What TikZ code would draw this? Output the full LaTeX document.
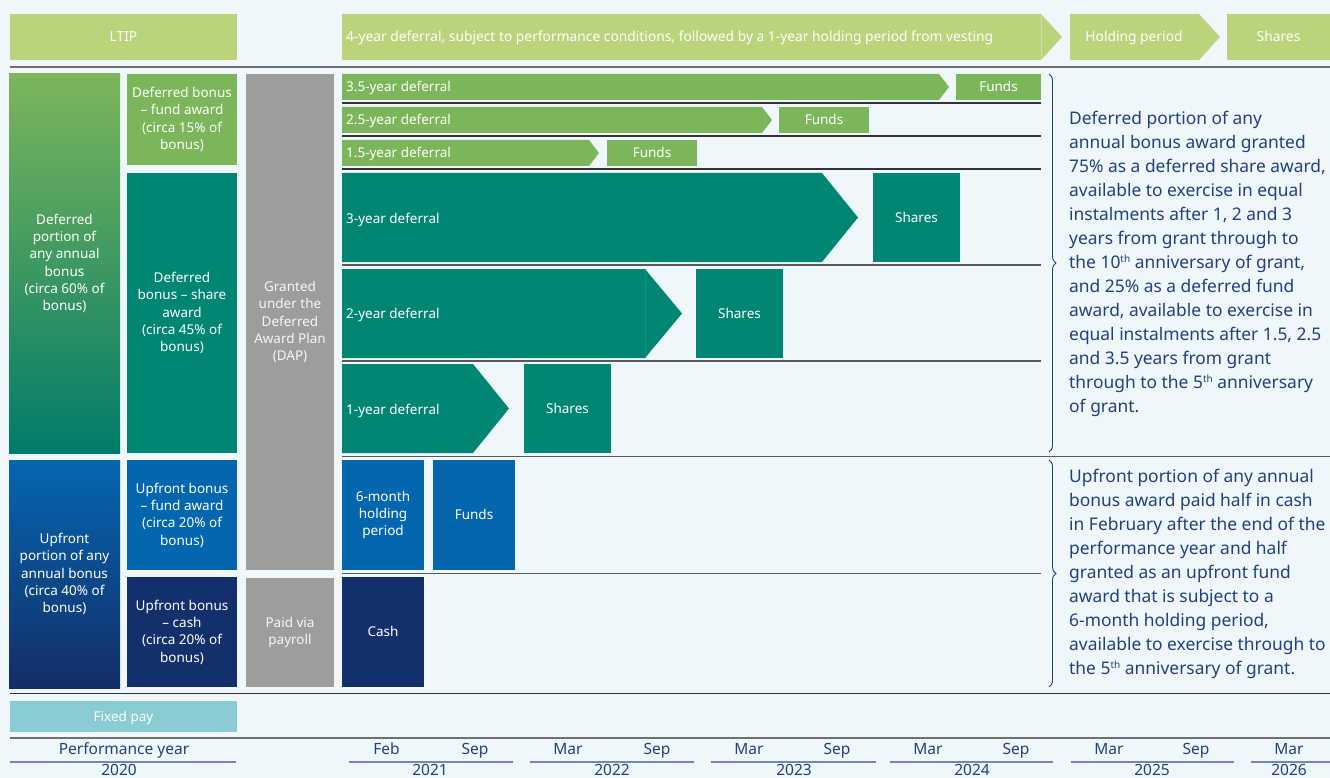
\documentclass[tikz,border=0pt]{standalone}
\usepackage{fontspec}
\setmainfont{Noto Sans}
\usetikzlibrary{decorations.pathreplacing}
\definecolor{bg}{HTML}{F0F7FA}
\definecolor{lgreen}{HTML}{BAD47C}
\definecolor{mgreen}{HTML}{7CB65A}
\definecolor{tealc}{HTML}{008673}
\definecolor{blu}{HTML}{0566B0}
\definecolor{navy}{HTML}{14306C}
\definecolor{grayb}{HTML}{9D9D9B}
\definecolor{fixc}{HTML}{89CCD3}
\definecolor{txtb}{HTML}{22407E}
\definecolor{linegray}{HTML}{6E7072}
\definecolor{axisline}{HTML}{7387B3}
\newcommand{\supx}[1]{\raisebox{0.62ex}{\fontsize{10}{10}\selectfont #1}}
\tikzset{
  bx/.style={anchor=north west, inner sep=0pt, outer sep=0pt, align=center, text=white,
    font=\fontsize{13.5}{17.3}\selectfont},
  one/.style={text height=9.6pt, text depth=0pt},
  lbl/.style={anchor=base west, inner sep=0pt, text=white, font=\fontsize{13.5}{17}\selectfont},
  toplbl/.style={inner sep=0pt, text=white, font=\fontsize{13.8}{17}\selectfont},
  sepline/.style={draw=black!80, line width=1.2pt},
  midline/.style={draw=black!65, line width=1.6pt},
  bigline/.style={draw=linegray, line width=2.5pt},
  axtxt/.style={anchor=base, text=txtb, inner sep=0pt, font=\fontsize{15.5}{17}\selectfont},
  axline/.style={draw=axisline, line width=2pt},
  note/.style={anchor=west, align=left, text=txtb, inner sep=0pt, font=\fontsize{17.4}{24}\selectfont},
  brc/.style={draw=txtb, line width=0.9pt, decorate, decoration={brace, amplitude=7pt}}
}
\begin{document}
\begin{tikzpicture}[x=1pt, y=-1pt]
\fill[bg] (0,0) rectangle (1330,778);
\useasboundingbox (0,0) rectangle (1330,778);

% ---- top row
\node[bx, one, fill=lgreen, minimum width=227pt, minimum height=46pt, font=\fontsize{13.8}{17}\selectfont] (ltip) at (10,14) {LTIP};
\fill[lgreen] (342,14) -- (1041,14) -- (1062,37) -- (1041,60) -- (342,60) -- cycle;
\draw[white!25!lgreen, line width=0.5pt] (1041,14) -- (1041,60);
\node[toplbl, anchor=base west] (fouryear) at (346,42) {4-year deferral, subject to performance conditions, followed by a 1-year holding period from vesting};
\fill[lgreen] (1070,14) -- (1199,14) -- (1220,37) -- (1199,60) -- (1070,60) -- cycle;
\node[toplbl, anchor=base] (hold) at (1134,42) {Holding period};
\node[bx, one, fill=lgreen, minimum width=103pt, minimum height=46pt, font=\fontsize{13.8}{17}\selectfont] (topshares) at (1227,14) {Shares};

\draw[bigline] (10,67) -- (1330,67);

% ---- left columns
\node[bx, top color=mgreen, bottom color=tealc!92!black, minimum width=111pt, minimum height=379pt] (defport) at (9,74)
  {Deferred\\portion of\\any annual\\bonus\\(circa 60\% of\\bonus)};
\node[bx, top color=blu, bottom color=navy!95!black, minimum width=111pt, minimum height=228pt] (upport) at (9,460)
  {Upfront\\portion of any\\annual bonus\\(circa 40\% of\\bonus)};

\node[bx, fill=mgreen, minimum width=110pt, minimum height=91pt] (dfund) at (127,74)
  {Deferred bonus\\– fund award\\(circa 15\% of\\bonus)};
\node[bx, fill=tealc, minimum width=110pt, minimum height=280pt] (dshare) at (127,173)
  {Deferred\\bonus – share\\award\\(circa 45\% of\\bonus)};
\node[bx, fill=blu, minimum width=110pt, minimum height=110pt] (ufund) at (127,460)
  {Upfront bonus\\– fund award\\(circa 20\% of\\bonus)};
\node[bx, fill=navy, minimum width=110pt, minimum height=110pt] (ucash) at (127,577)
  {Upfront bonus\\– cash\\(circa 20\% of\\bonus)};

\node[bx, fill=grayb, text=white!93!gray, minimum width=88pt, minimum height=496pt] (dap) at (246,74)
  {Granted\\under the\\Deferred\\Award Plan\\(DAP)};
\node[bx, fill=grayb, text=white!93!gray, minimum width=88pt, minimum height=109pt] (payroll) at (246,578)
  {Paid via\\payroll};

% ---- deferred fund rows
\fill[mgreen] (342,74) -- (939,74) -- (949,87) -- (939,100) -- (342,100) -- cycle;
\node[lbl] (r35) at (346,92) {3.5-year deferral};
\node[bx, one, fill=mgreen, minimum width=85pt, minimum height=26pt] (f35) at (956,74) {Funds};
\draw[sepline] (342,103) -- (1041,103);

\fill[mgreen] (342,107) -- (762,107) -- (772,120) -- (762,133) -- (342,133) -- cycle;
\node[lbl] (r25) at (346,125) {2.5-year deferral};
\node[bx, one, fill=mgreen, minimum width=90pt, minimum height=26pt] (f25) at (779,107) {Funds};
\draw[sepline] (342,136) -- (1041,136);

\fill[mgreen] (342,140) -- (589,140) -- (599,153) -- (589,166) -- (342,166) -- cycle;
\node[lbl] (r15) at (346,158) {1.5-year deferral};
\node[bx, one, fill=mgreen, minimum width=90pt, minimum height=26pt] (f15) at (607,140) {Funds};
\draw[sepline] (342,169) -- (1041,169);

% ---- deferred share rows
\fill[tealc] (342,173) -- (822,173) -- (858,217.5) -- (822,262) -- (342,262) -- cycle;
\node[lbl] (r3) at (346,223) {3-year deferral};
\node[bx, one, fill=tealc, minimum width=87pt, minimum height=89pt] (s3) at (873,173) {Shares};
\draw[midline] (342,265) -- (1041,265);

\fill[tealc] (342,269) -- (645,269) -- (682,313.5) -- (645,358) -- (342,358) -- cycle;
\draw[tealc!92!white, line width=0.4pt] (645,269) -- (645,358);
\node[lbl] (r2) at (346,318) {2-year deferral};
\node[bx, one, fill=tealc, minimum width=87pt, minimum height=89pt] (s2) at (696,269) {Shares};
\draw[midline] (342,361) -- (1041,361);

\fill[tealc] (342,364) -- (473,364) -- (509,408.5) -- (473,453) -- (342,453) -- cycle;
\node[lbl] (r1) at (346,414) {1-year deferral};
\node[bx, one, fill=tealc, minimum width=87pt, minimum height=89pt] (s1) at (524,364) {Shares};
\draw[midline] (342,456.5) -- (1330,456.5);

% ---- upfront rows
\node[bx, fill=blu, minimum width=82pt, minimum height=110pt] (sixm) at (342,460) {6-month\\holding\\period};
\node[bx, one, fill=blu, minimum width=82pt, minimum height=110pt] (ufunds) at (433,460) {Funds};
\draw[midline] (342,573.5) -- (1041,573.5);
\node[bx, one, fill=navy, minimum width=82pt, minimum height=110pt] (cash) at (342,577) {Cash};

\draw[sepline] (10,693.5) -- (1330,693.5);
\node[bx, one, fill=fixc, minimum width=227pt, minimum height=31pt] (fixed) at (10,701) {Fixed pay};
\draw[bigline] (10,738) -- (1330,738);

% ---- braces and notes
\draw[brc] (1049,74) -- (1049,452);
\draw[brc] (1049,460) -- (1049,687);
\node[note] (dnote) at (1069,264) {Deferred portion of any\\annual bonus award granted\\75\% as a deferred share award,\\available to exercise in equal\\instalments after 1, 2 and 3\\years from grant through to\\the 10\supx{th} anniversary of grant,\\and 25\% as a deferred fund\\award, available to exercise in\\equal instalments after 1.5, 2.5\\and 3.5 years from grant\\through to the 5\supx{th} anniversary\\of grant.};
\node[note] (unote) at (1069,574) {Upfront portion of any annual\\bonus award paid half in cash\\in February after the end of the\\performance year and half\\granted as an upfront fund\\award that is subject to a\\6-month holding period,\\available to exercise through to\\the 5\supx{th} anniversary of grant.};

% ---- axis
\node[axtxt] (perf) at (124,754.5) {Performance year};
\draw[axline] (10,762) -- (236,762);
\node[axtxt] (y2020) at (119,775.5) {2020};

\node[axtxt] (feb21) at (386.5,754.5) {Feb};
\node[axtxt] (sep21) at (475,754.5) {Sep};
\draw[axline] (349,762) -- (513,762);
\node[axtxt] (y2021) at (430,775.5) {2021};

\node[axtxt] (mar22) at (568,754.5) {Mar};
\node[axtxt] (sep22) at (657,754.5) {Sep};
\draw[axline] (530,762) -- (694,762);
\node[axtxt] (y2022) at (612,775.5) {2022};

\node[axtxt] (mar23) at (749,754.5) {Mar};
\node[axtxt] (sep23) at (837,754.5) {Sep};
\draw[axline] (711,762) -- (876,762);
\node[axtxt] (y2023) at (794,775.5) {2023};

\node[axtxt] (mar24) at (928,754.5) {Mar};
\node[axtxt] (sep24) at (1016,754.5) {Sep};
\draw[axline] (890,762) -- (1053,762);
\node[axtxt] (y2024) at (972,775.5) {2024};

\node[axtxt] (mar25) at (1109,754.5) {Mar};
\node[axtxt] (sep25) at (1196,754.5) {Sep};
\draw[axline] (1071,762) -- (1234,762);
\node[axtxt] (y2025) at (1152,775.5) {2025};

\node[axtxt] (mar26) at (1289,754.5) {Mar};
\draw[axline] (1251,762) -- (1330,762);
\node[axtxt] (y2026) at (1289,775.5) {2026};
\end{tikzpicture}
\end{document}
